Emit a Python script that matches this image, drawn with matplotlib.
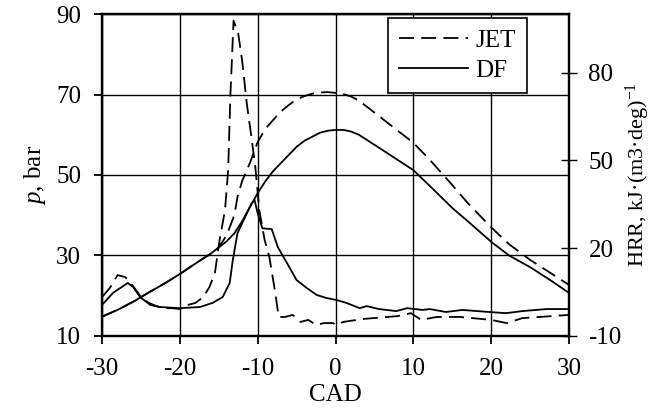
import numpy as np
import matplotlib
matplotlib.use("Agg")
import matplotlib.pyplot as plt

plt.rcParams["font.family"] = ["Liberation Serif", "DejaVu Serif"]
plt.rcParams["mathtext.fontset"] = "custom"
plt.rcParams["mathtext.rm"] = "Liberation Serif"
plt.rcParams["mathtext.it"] = "Liberation Serif:italic"

# cylinder pressure, bar (left axis)
p_cad = [-30, -28, -26, -24, -22, -20, -18, -16, -15, -14, -13, -12.6, -12, -11, -10,
         -9, -8, -7, -6, -5, -4, -3, -2, -1, 0, 1, 2, 3, 5, 7, 10, 12, 15, 17,
         20, 22.3, 25, 27.5, 30]
p_jet = [14.8, 16.5, 18.5, 20.8, 23, 25.4, 28, 30.5, 32, 35, 40, 44.5, 48.5, 53, 58.2,
         61.5, 63.7, 65.8, 67.4, 68.8, 69.6, 70.2, 70.5, 70.6, 70.4, 70.1, 69.5, 68.5, 65.5,
         62.5, 58, 54, 47.5, 43, 37, 32.8, 28.9, 25.8, 22.7]
p_df_cad = [-30, -28, -26, -24, -22, -20, -18, -16, -14, -13, -12, -11, -10, -9, -8, -7,
            -6, -5, -4, -3, -2, -1, 0, 1, 2, 3, 5, 7, 10, 12, 15, 17, 20, 22.3, 25, 27.5, 30]
p_df = [14.8, 16.5, 18.5, 20.8, 23, 25.4, 28, 30.5, 33.5, 35.5, 38.5, 42, 45.5, 48.5, 51, 53,
        55, 57, 58.5, 59.5, 60.5, 61, 61.2, 61.2, 60.8, 60, 57.5, 55, 51.2, 47.5, 41.8, 38.5,
        33.4, 30, 27.1, 24, 20.7]

# heat release rate (right axis)
hrr_jet_cad = [-30, -29, -28, -27, -26, -25, -24, -23, -22, -21, -20, -19, -18, -17, -16.2,
               -15.5, -14.9, -14.2, -13.8, -13.5, -13.1, -12.5, -12, -11.4, -10.8, -10.3,
               -9.8, -9.1, -8.5, -7.8, -7.3, -6.5, -5.5, -4.5, -3.5, -2.5, -1.5, -0.3, 0,
               1, 3.5, 8, 9.7, 11, 13, 16, 20, 22, 24, 30]
hrr_jet = [3.3, 6.4, 10.8, 10.1, 7.0, 3.3, 1.3, 0.2, -0.5, -0.5, -0.8, 0.6, 1.3, 3.3, 6.7,
           11.5, 22.7, 33, 46.6, 72.8, 97.7, 93.3, 84.1, 69.4, 57.8, 47.6,
           33, 22.7, 16.9, 5.7, -3.5, -3.5, -2.8, -5.2, -4.5, -6.2, -5.6, -5.6, -6.2,
           -5.2, -4.2, -3.2, -2.2, -4.5, -3.5, -3.5, -4.5, -5.6, -3.9, -2.8]
hrr_df_cad = [-30, -28.6, -26.7, -26.0, -25.1, -23.8, -22.6, -20, -17.4, -15.8, -14.5, -13.6,
              -13.2, -12.6, -11.4, -10.8, -10.4, -10.0, -9.4, -8.2, -7.4, -6.3, -5.0, -3.7,
              -2.4, -1.2, 0.1, 1.4, 3.1, 4.0, 5.6, 7.8, 9.2, 11.2, 12.1, 14.2, 16.3, 19.7,
              21.9, 24.0, 27.1, 30]
hrr_df = [0.6, 4.7, 8.1, 6.7, 3.3, 0.6, -0.1, -0.5, -0.1, 1.3, 3.3, 8.1,
          15.9, 25.1, 31.9, 35.3, 36.4, 31.9, 26.8, 26.5, 20.3, 15.2, 9.1, 6.4,
          4.0, 3.0, 2.3, 1.3, -0.5, 0.2, -0.8, -1.5, -0.5, -1.1, -0.8, -1.8, -1.1, -1.8,
          -2.2, -1.5, -0.8, -0.8]

x_ticks = [-30, -20, -10, 0, 10, 20, 30]
p_ticks = [10, 30, 50, 70, 90]
hrr_ticks = [-10, 20, 50, 80]

FS = 18

fig = plt.figure(figsize=(6.57, 4.12), dpi=100)
ax = fig.add_axes([0.1553, 0.1845, 0.7108, 0.7815])
ax2 = ax.twinx()

lw = 1.3
dash = (8.3, 4)
ax.plot(p_cad, p_jet, color="black", lw=lw, dashes=dash)
ax.plot(p_df_cad, p_df, color="black", lw=lw)
ax2.plot(hrr_jet_cad, hrr_jet, color="black", lw=lw, dashes=dash, label="JET")
ax2.plot(hrr_df_cad, hrr_df, color="black", lw=lw, label="DF")

ax.set_xlim(-30, 30)
ax.set_ylim(10, 90)
ax2.set_ylim(-10, 100)
ax.set_xticks(x_ticks)
ax.set_xticklabels([str(t) for t in x_ticks])
ax.set_yticks(p_ticks)
ax2.set_yticks(hrr_ticks)
ax2.set_yticklabels([str(t) for t in hrr_ticks])

ax.grid(True, color="black", lw=1.0)
ax.set_axisbelow(True)
for a in (ax, ax2):
    for s in a.spines.values():
        s.set_linewidth(1.6)
        s.set_color("black")

ax.tick_params(axis="x", direction="out", length=6, width=1.3, labelsize=FS, pad=10)
ax.tick_params(axis="y", direction="out", length=6, width=1.3, labelsize=FS, pad=9)
ax2.tick_params(axis="y", direction="inout", length=12, width=1.0, labelsize=FS, pad=8)

ax.set_xlabel("CAD", fontsize=FS, labelpad=3)
ax.set_ylabel("$\\it{p}$, bar", fontsize=FS, labelpad=6)
ax2.set_ylabel("HRR, kJ·(m3·deg)$^{-1}$", fontsize=16)
ax2.yaxis.set_label_coords(1.118, 0.5)

leg = ax2.legend(loc="upper right", bbox_to_anchor=(0.910, 0.988), fontsize=FS,
                 frameon=True, fancybox=False, edgecolor="black", framealpha=1,
                 handlelength=2.76, borderpad=0.45, labelspacing=0.3, handletextpad=0.3,
                 borderaxespad=0)
leg.get_frame().set_linewidth(1.2)

fig.savefig("out.png", dpi=100)
